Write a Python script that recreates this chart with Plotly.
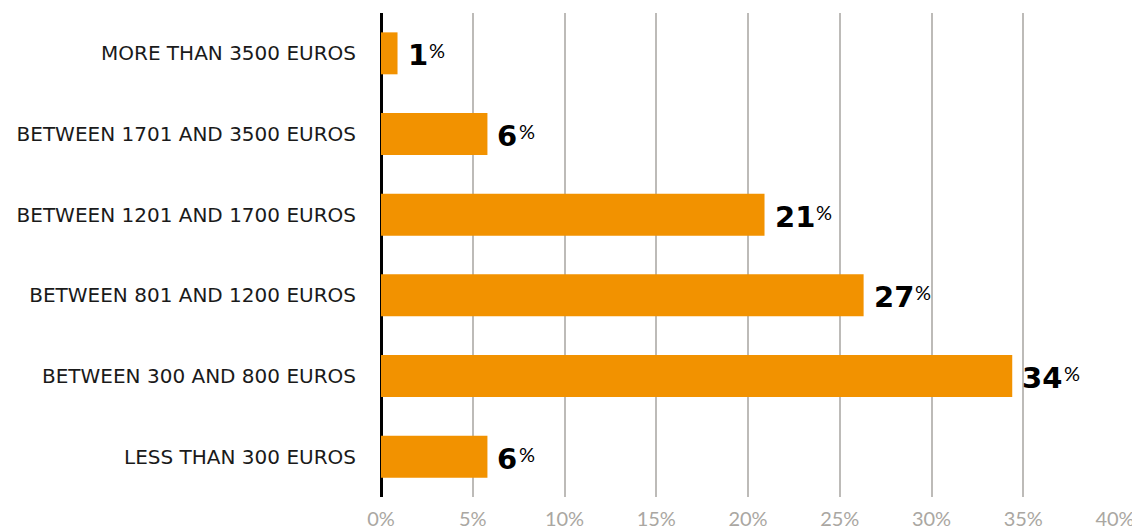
import plotly.graph_objects as go

categories = [
    "MORE THAN 3500 EUROS",
    "BETWEEN 1701 AND 3500 EUROS",
    "BETWEEN 1201 AND 1700 EUROS",
    "BETWEEN 801 AND 1200 EUROS",
    "BETWEEN 300 AND 800 EUROS",
    "LESS THAN 300 EUROS",
]
values = [0.9, 5.8, 20.9, 26.3, 34.4, 5.8]
labels = ["1", "6", "21", "27", "34", "6"]
tick_vals = [0, 5, 10, 15, 20, 25, 30, 35, 40]
tick_text = ["0%", "5%", "10%", "15%", "20%", "25%", "30%", "35%", "40%"]

ORANGE = "#F29200"
FONT = "Lato, 'Noto Sans', sans-serif"
CAT_FONT = "'DejaVu Sans', sans-serif"
NUM_FONT = "'DejaVu Sans', sans-serif"
NUM_SIZE = 29

fig = go.Figure()
fig.add_trace(go.Bar(
    x=values, y=categories, orientation="h",
    marker=dict(color=ORANGE, line=dict(width=0)),
    width=0.52, hoverinfo="skip",
))

DIGIT_W = 0.696 * NUM_SIZE
for v, c, lab in zip(values, categories, labels):
    fig.add_annotation(
        x=v, y=c, xref="x", yref="y",
        text=f"<b>{lab}</b>", showarrow=False,
        xanchor="left", yanchor="middle", xshift=10, yshift=-2,
        borderpad=0, borderwidth=0,
        font=dict(family=NUM_FONT, size=NUM_SIZE, color="#000000"),
    )
    fig.add_annotation(
        x=v, y=c, xref="x", yref="y",
        text="%", showarrow=False,
        xanchor="left", yanchor="middle",
        xshift=10 + DIGIT_W * len(lab) + 1, yshift=3,
        borderpad=0, borderwidth=0,
        font=dict(family=FONT, size=20, color="#000000"),
    )

# the page adds an 8px body margin; sizes below compensate for it
fig.update_layout(
    width=1132, height=522,
    margin=dict(l=373, r=25, t=5, b=33, pad=0),
    paper_bgcolor="white", plot_bgcolor="white",
    showlegend=False, bargap=0.48,
    font=dict(family=FONT),
)
fig.update_xaxes(
    range=[0, 40], tickvals=tick_vals, ticktext=tick_text,
    showgrid=True, gridcolor="#BDBBB8", gridwidth=1.5,
    zeroline=True, zerolinecolor="#000000", zerolinewidth=3,
    tickfont=dict(family=FONT, size=20, color="#AAA7A2"),
    ticks="", ticklabelstandoff=8, fixedrange=True, automargin=False,
)
fig.update_yaxes(
    categoryorder="array", categoryarray=categories, autorange="reversed",
    showgrid=False, zeroline=False, showline=False,
    tickfont=dict(family=CAT_FONT, size=20, color="#1a1a1a"),
    ticks="", ticklabelstandoff=24, automargin=False,
)

fig.write_html("out.html")
